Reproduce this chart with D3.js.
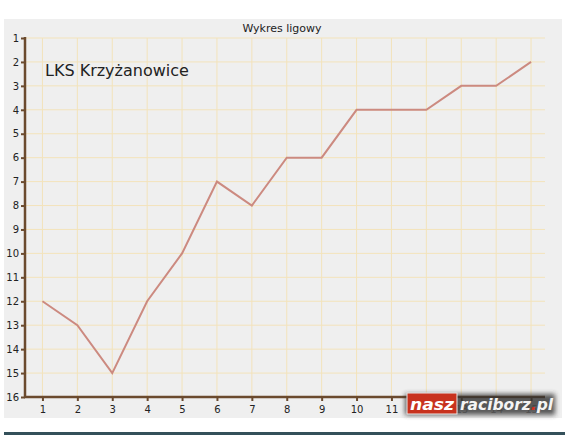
<!DOCTYPE html>
<html>
<head>
<meta charset="utf-8">
<script src="https://cdn.jsdelivr.net/npm/d3@7"></script>
<style>
  body { margin: 0; background: #fff; font-family: "DejaVu Sans", sans-serif; }
  svg { display: block; }
</style>
</head>
<body>
<svg id="chart" width="569" height="435"></svg>
<script>
// Chart data
const rounds = [1, 2, 3, 4, 5, 6, 7, 8, 9, 10, 11, 12, 13, 14, 15];
const positions = [12, 13, 15, 12, 10, 7, 8, 6, 6, 4, 4, 4, 3, 3, 2];
const placeTicks = d3.range(1, 17);
const teamName = "LKS Krzyżanowice";
const chartTitle = "Wykres ligowy";

const svg = d3.select("#chart");
const axisColor = "#6b4a2e";
const gridColor = "#f3e3bb";

// panel
svg.append("rect").attr("x", 4).attr("y", 19).attr("width", 558).attr("height", 399).attr("fill", "#efefef");
svg.append("rect").attr("x", 4).attr("y", 432).attr("width", 561).attr("height", 3).attr("fill", "#34505a");

const x = d3.scaleLinear().domain([0.5, 15.5]).range([25, 548.5]);
const y = d3.scaleLinear().domain([1, 16]).range([38, 397]);

// grid
svg.append("g").selectAll("line.h")
  .data(placeTicks.slice(0, -1))
  .join("line")
  .attr("x1", 25).attr("x2", 545)
  .attr("y1", d => y(d)).attr("y2", d => y(d))
  .attr("stroke", gridColor).attr("stroke-width", 1);
svg.append("g").selectAll("line.v")
  .data(rounds)
  .join("line")
  .attr("x1", d => x(d)).attr("x2", d => x(d))
  .attr("y1", 38).attr("y2", 397)
  .attr("stroke", gridColor).attr("stroke-width", 1);

svg.append("text").attr("x", 282).attr("y", 32).attr("text-anchor", "middle")
  .attr("font-size", 11).attr("fill", "#222").text(chartTitle);

svg.append("text").attr("x", 45).attr("y", 76)
  .attr("font-size", 16).attr("fill", "#222").text(teamName);

// line
svg.append("path")
  .datum(rounds.map((r, i) => [r, positions[i]]))
  .attr("fill", "none")
  .attr("stroke", "#cc8a80")
  .attr("stroke-width", 2)
  .attr("d", d3.line().x(d => x(d[0])).y(d => y(d[1])));

// axes
const yAxis = svg.append("g").attr("transform", "translate(25,0)")
  .call(d3.axisLeft(y).tickValues(placeTicks).tickSize(4).tickPadding(2).tickSizeOuter(0));
const xAxis = svg.append("g").attr("transform", "translate(0,397)")
  .call(d3.axisBottom(x).tickValues(rounds).tickSize(4).tickPadding(5).tickSizeOuter(0));
[yAxis, xAxis].forEach(g => {
  g.select(".domain").attr("stroke", axisColor).attr("stroke-width", 2.5);
  g.selectAll(".tick line").attr("stroke", axisColor).attr("stroke-width", 2);
  g.selectAll(".tick text").attr("fill", "#222").attr("font-size", 10).attr("font-family", "DejaVu Sans");
});
yAxis.select(".domain").attr("d", "M0,37V398");
xAxis.select(".domain").attr("d", "M24,0H545");
// logo sits over the last tick labels, as in the original
xAxis.selectAll(".tick text").filter(d => d > 11).attr("fill", "#999");

// logo
const logo = svg.append("g");
const defs = svg.append("defs");
const f = defs.append("filter").attr("id", "sh").attr("x", "-20%").attr("y", "-40%").attr("width", "140%").attr("height", "180%");
f.append("feGaussianBlur").attr("stdDeviation", 2.5);
logo.append("rect").attr("x", 405).attr("y", 394).attr("width", 150).attr("height", 21).attr("fill", "#333").attr("filter", "url(#sh)").attr("opacity", 0.8);
logo.append("rect").attr("x", 407).attr("y", 393).attr("width", 50).attr("height", 21).attr("fill", "#c8321e").attr("stroke", "#e8e8e8").attr("stroke-width", 1);
logo.append("text").attr("x", 410).attr("y", 410)
  .attr("textLength", 44).attr("lengthAdjust", "spacingAndGlyphs")
  .attr("font-size", 16).attr("font-weight", "bold").attr("font-style", "italic")
  .attr("fill", "#fff").text("nasz");
const rt = logo.append("text").attr("x", 460).attr("y", 410)
  .attr("textLength", 93).attr("lengthAdjust", "spacingAndGlyphs")
  .attr("font-size", 16).attr("font-weight", "bold").attr("font-style", "italic")
  .attr("fill", "#f4f4f4");
rt.append("tspan").text("raciborz");
rt.append("tspan").attr("fill", "#d03020").text(".");
rt.append("tspan").text("pl");
</script>
</body>
</html>
